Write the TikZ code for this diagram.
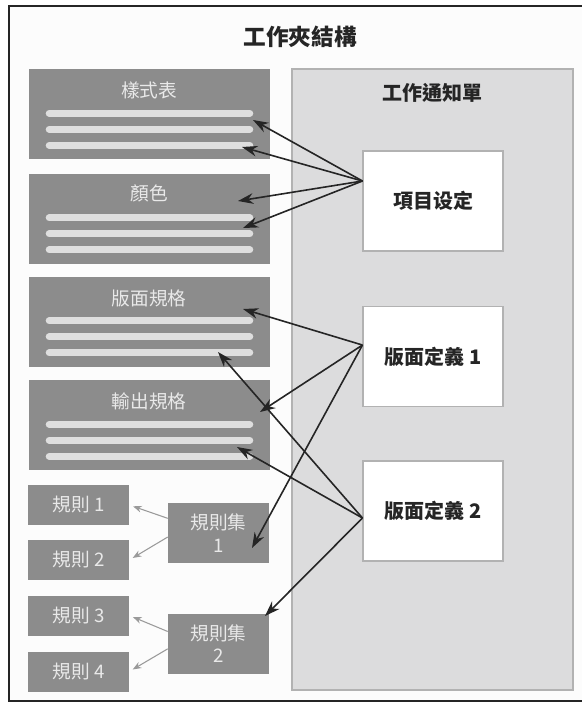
\documentclass[tikz,border=0pt]{standalone}
\usepackage{fontspec}
\setmainfont{Noto Sans CJK TC}
\usetikzlibrary{arrows.meta,positioning}

\definecolor{sheetgray}{HTML}{8C8C8C}
\definecolor{sheettext}{HTML}{E9E9E9}
\definecolor{barwhite}{HTML}{DEDEDE}
\definecolor{panelgray}{HTML}{DCDCDD}
\definecolor{panelline}{HTML}{B2B2B2}
\definecolor{titleblack}{HTML}{252525}
\definecolor{linkgray}{HTML}{9A9A9A}
\definecolor{framefill}{HTML}{FCFCFC}

\begin{document}
\begin{tikzpicture}[x=0.75pt, y=-0.75pt,
    sheet/.style={rectangle, fill=sheetgray, minimum width=180.75pt, minimum height=67.5pt, inner sep=0},
    sheettitle/.style={text=sheettext, font=\fontsize{14}{16}\selectfont},
    bar/.style={line width=5.25pt, line cap=round, draw=barwhite},
    rulebox/.style={rectangle, fill=sheetgray, text=sheettext, minimum width=75.75pt, minimum height=30pt, font=\fontsize{14}{17}\selectfont},
    setbox/.style={rulebox, minimum height=45pt, align=center},
    panel/.style={rectangle, fill=panelgray, draw=panelline, line width=0.8pt, minimum width=210.75pt, minimum height=465.75pt},
    itembox/.style={rectangle, fill=white, draw=panelline, line width=0.8pt, minimum width=105pt, minimum height=75pt, text=titleblack, font=\bfseries\fontsize{15}{18}\selectfont},
    link/.style={-{Stealth[length=11.5pt, width=8pt]}, line width=1.2pt, draw=titleblack},
    sublink/.style={-{Stealth[length=6.5pt, width=5pt]}, line width=0.8pt, draw=linkgray, shorten >=3pt}
  ]
  \useasboundingbox (0,0) rectangle (582,704);

  % outer frame
  \fill[framefill] (9,6) rectangle (590,701);
  \draw[titleblack, line width=1.5pt] (590,6) -| (9,701) -- (590,701);
  \node[text=titleblack, font=\bfseries\fontsize{17}{20}\selectfont] (folder) at (300,37) {工作夾結構};

  % job ticket
  \node[panel] (ticket) at (432.5,379.5) {};
  \node[text=titleblack, font=\bfseries\fontsize{15}{18}\selectfont] (ticketT) at (432.5,93) {工作通知單};
  \node[itembox] (items) at (433,201) {項目设定};
  \node[itembox] (layout1) at (433,356.5) {版面定義 1};
  \node[itembox] (layout2) at (433,511) {版面定義 2};

  % resources
  \node[sheet] (styles) at (149,114) {};
  \node[sheet] (colors) at (149,218.5) {};
  \node[sheet] (layout) at (149,321.5) {};
  \node[sheet] (output) at (149,425) {};
  \node[sheettitle] (stylesT) at (149,90) {樣式表};
  \node[sheettitle] (colorsT) at (149,193) {顏色};
  \node[sheettitle] (layoutT) at (149,298) {版面規格};
  \node[sheettitle] (outputT) at (149,401) {輸出規格};
  \foreach \s in {styles,colors,layout,output}
    \foreach \d in {14,30,46}
      \draw[bar] ([shift={(21,-\d)}]\s.south west) -- ([shift={(-20,-\d)}]\s.south east);

  \node[rulebox] (rule1) at (78.5,505) {規則 1};
  \node[rulebox] (rule2) at (78.5,560) {規則 2};
  \node[rulebox] (rule3) at (78.5,615.5) {規則 3};
  \node[rulebox] (rule4) at (78.5,671.5) {規則 4};
  \node[setbox] (set1) at (218.5,533) {規則集\\1};
  \node[setbox] (set2) at (218.5,643.5) {規則集\\2};

  \draw[sublink] ([yshift=11pt]set1.west) -- (rule1.east);
  \draw[sublink] ([yshift=-3pt]set1.west) -- (rule2.east);
  \draw[sublink] ([yshift=9pt]set2.west) -- (rule3.east);
  \draw[sublink] ([yshift=-4pt]set2.west) -- (rule4.east);

  % links from the ticket
  \coordinate (itemsOut) at ([yshift=15pt]items.west);
  \coordinate (layout1Out) at ([yshift=8.6pt]layout1.west);
  \coordinate (layout2Out) at ([yshift=-5.25pt]layout2.west);

  \coordinate (stylesA) at (253,120);
  \coordinate (stylesB) at (242,147);
  \coordinate (colorsA) at (238,201);
  \coordinate (colorsB) at (243,228);
  \coordinate (layoutA) at (243,309);
  \coordinate (layoutB) at (218,352);
  \coordinate (outputA) at (260,412);
  \coordinate (outputB) at (237,447);
  \coordinate (set1In) at (252,548);
  \coordinate (set2In) at (265,616);

  \foreach \t in {stylesA,stylesB,colorsA,colorsB}
    \draw[link] (itemsOut) -- (\t);
  \foreach \t in {layoutA,outputA,set1In}
    \draw[link] (layout1Out) -- (\t);
  \foreach \t in {layoutB,outputB,set2In}
    \draw[link] (layout2Out) -- (\t);
\end{tikzpicture}
\end{document}
